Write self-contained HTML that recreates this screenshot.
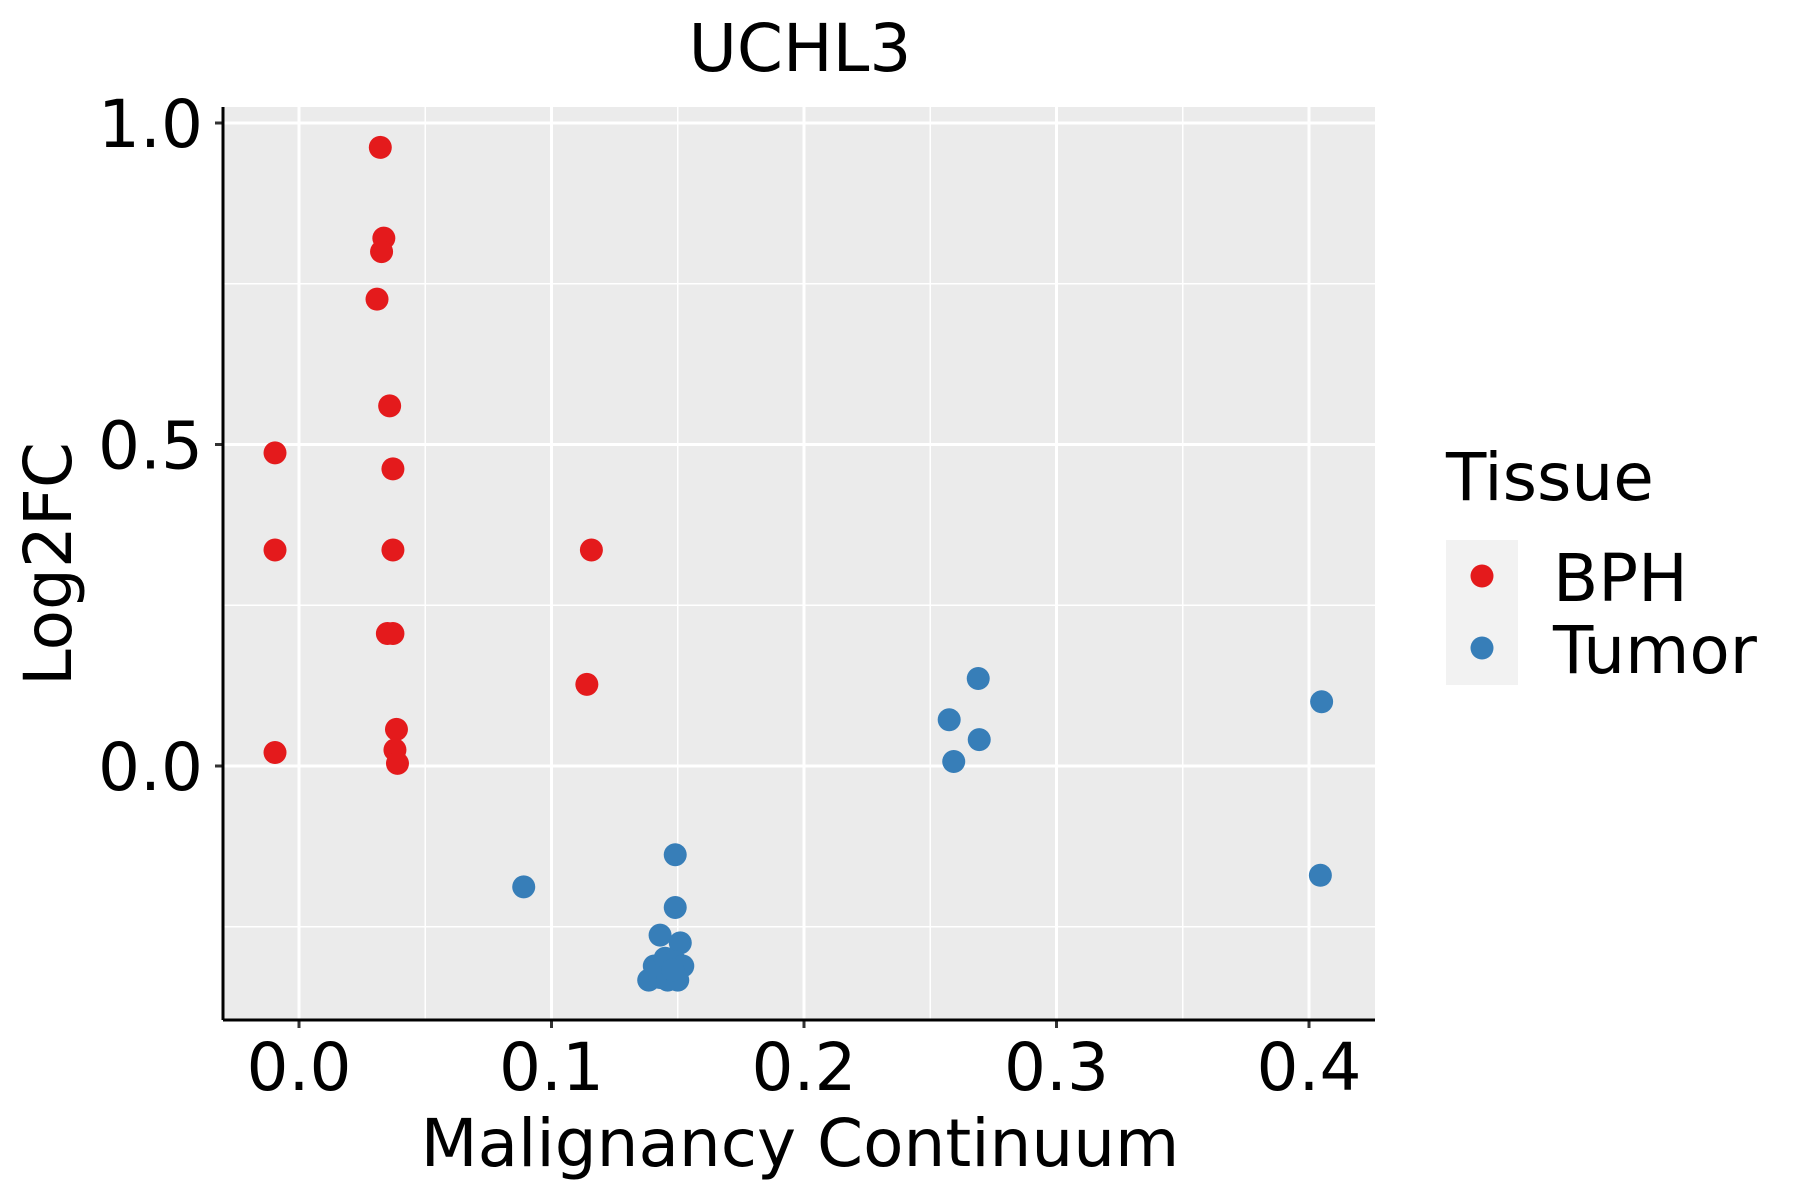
<!DOCTYPE html>
<html><head><meta charset="utf-8"><style>
html,body{margin:0;padding:0;background:#fff;}
svg{display:block;font-family:"DejaVu Sans","Liberation Sans",sans-serif;}
</style></head><body>
<svg id="chart" width="1800" height="1200" viewBox="0 0 1800 1200">
<rect x="223" y="107" width="1152" height="913" fill="#ebebeb"/>
<g id="grid"></g>
<g id="points"></g>
<g id="axes"></g>
<text x="800" y="71" font-size="66" text-anchor="middle" fill="#000">UCHL3</text>
<text x="800" y="1166" font-size="66" text-anchor="middle" fill="#000">Malignancy Continuum</text>
<text transform="translate(71,564) rotate(-90)" font-size="66" text-anchor="middle" fill="#000">Log2FC</text>
<g>
<text x="1446" y="500" font-size="66" fill="#000">Tissue</text>
<rect x="1446" y="540" width="72" height="145" fill="#f2f2f2"/>
<circle cx="1482" cy="576" r="11.5" fill="#e41a1c"/>
<circle cx="1482" cy="648" r="11.5" fill="#377eb8"/>
<text x="1553" y="601" font-size="66" fill="#000">BPH</text>
<text x="1553" y="673" font-size="66" fill="#000">Tumor</text>
</g>
</svg>
<script>
const bphX = [0.0322,0.0336,0.0327,0.0309,0.0359,0.0372,-0.0095,-0.0095,0.0372,0.035,0.0372,0.1158,0.114,0.0386,0.038,0.039,-0.0095];
const bphY = [0.962,0.821,0.800,0.726,0.560,0.462,0.487,0.336,0.336,0.206,0.206,0.336,0.127,0.057,0.025,0.004,0.021];
const tumorX = [0.089,0.149,0.149,0.143,0.151,0.1407,0.145,0.149,0.152,0.1385,0.143,0.146,0.150,0.148,0.2575,0.269,0.2694,0.2593,0.405,0.4045];
const tumorY = [-0.188,-0.138,-0.220,-0.263,-0.275,-0.311,-0.299,-0.304,-0.311,-0.333,-0.329,-0.333,-0.333,-0.317,0.072,0.136,0.041,0.007,0.100,-0.170];
const xTicks = [0.0,0.1,0.2,0.3,0.4];
const xTickLabels = ["0.0","0.1","0.2","0.3","0.4"];
const yTicks = [0.0,0.5,1.0];
const yTickLabels = ["0.0","0.5","1.0"];
const xMinor = [0.05,0.15,0.25,0.35];
const yMinor = [-0.25,0.25,0.75];

const L=223,R=1375,T=107,B=1020;
const xs = v => 299 + v*2525;
const ys = v => 766 - v*643;
const NS="http://www.w3.org/2000/svg";
function mk(tag, attrs, parent){const e=document.createElementNS(NS,tag);for(const k in attrs)e.setAttribute(k,attrs[k]);parent.appendChild(e);return e;}
const grid=document.getElementById('grid'), pts=document.getElementById('points'), axes=document.getElementById('axes');
xMinor.forEach(v=>{const l=mk('line',{x1:xs(v),x2:xs(v),y1:T,y2:B,stroke:'#fff','stroke-width':1.5},grid);

});
yMinor.forEach(v=>{const l=mk('line',{x1:L,x2:R,y1:ys(v),y2:ys(v),stroke:'#fff','stroke-width':1.5},grid);

});
xTicks.forEach((v,i)=>{const l=mk('line',{x1:xs(v),x2:xs(v),y1:T,y2:B,stroke:'#fff','stroke-width':3},grid);


const t=mk('line',{x1:xs(v),x2:xs(v),y1:B,y2:B+8,stroke:'#333','stroke-width':3},axes);


const tx=mk('text',{x:xs(v),y:1090,'font-size':66,'text-anchor':'middle',fill:'#000'},axes);tx.textContent=xTickLabels[i];

});
yTicks.forEach((v,i)=>{const l=mk('line',{x1:L,x2:R,y1:ys(v),y2:ys(v),stroke:'#fff','stroke-width':3},grid);


const t=mk('line',{x1:L-8,x2:L,y1:ys(v),y2:ys(v),stroke:'#333','stroke-width':3},axes);


const tx=mk('text',{x:203,y:ys(v)+24,'font-size':66,'text-anchor':'end',fill:'#000'},axes);tx.textContent=yTickLabels[i];

});
const ax=mk('line',{x1:L,x2:R,y1:B,y2:B,stroke:'#000','stroke-width':3},axes);


const ay=mk('line',{x1:L,x2:L,y1:T,y2:B,stroke:'#000','stroke-width':3},axes);


bphX.forEach((v,i)=>{const c=mk('circle',{cx:xs(v),cy:ys(bphY[i]),r:11.5,fill:'#e41a1c'},pts);

});
tumorX.forEach((v,i)=>{const c=mk('circle',{cx:xs(v),cy:ys(tumorY[i]),r:11.5,fill:'#377eb8'},pts);

});
</script>
</body></html>
